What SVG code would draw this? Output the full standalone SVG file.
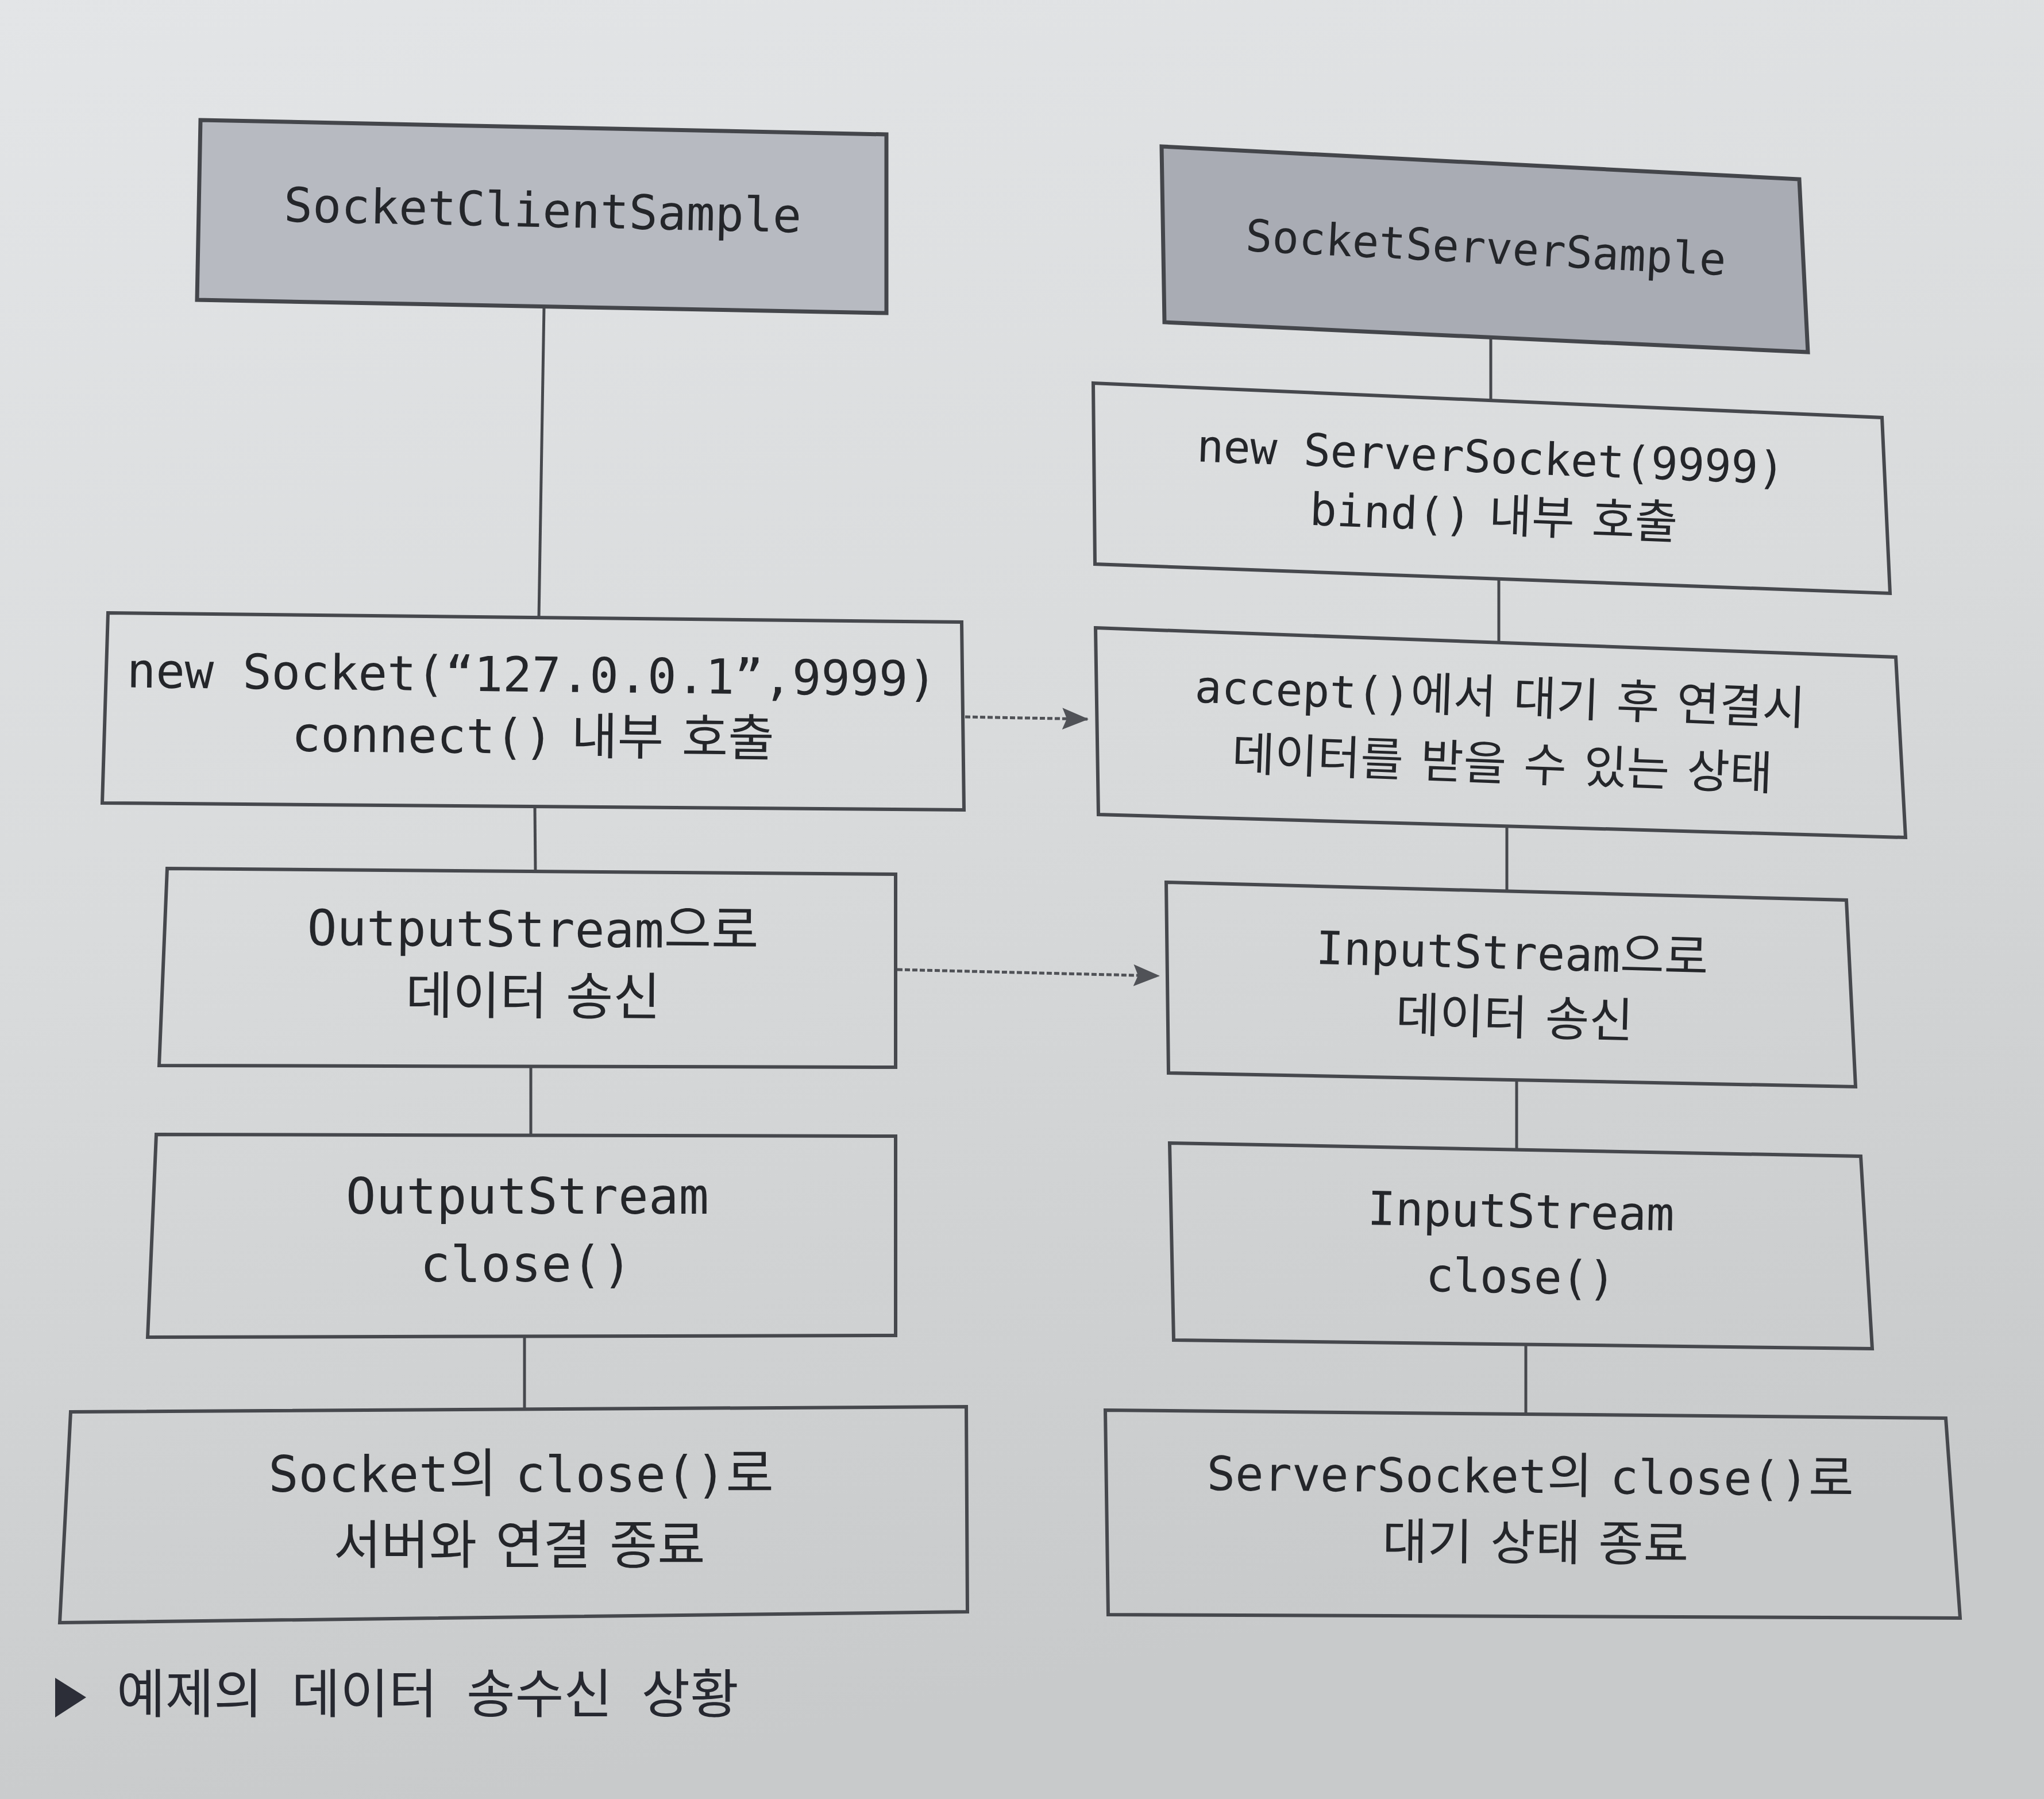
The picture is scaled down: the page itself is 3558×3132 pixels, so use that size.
<svg xmlns="http://www.w3.org/2000/svg" width="3558" height="3132" viewBox="0 0 3558 3132">
  <defs>
    <linearGradient id="paper" x1="0" y1="0" x2="0.25" y2="1">
      <stop offset="0" stop-color="#e3e5e7"/>
      <stop offset="0.5" stop-color="#d9dbdc"/>
      <stop offset="1" stop-color="#c8cacb"/>
    </linearGradient>
    <marker id="arrow" viewBox="0 0 46 38" refX="44" refY="19" markerWidth="46" markerHeight="38" markerUnits="userSpaceOnUse" orient="auto">
      <path d="M0,0 L46,19 L0,38 L8,19 Z" fill="#505257"/>
    </marker>
    <style>
      .box { fill: none; stroke: #46484d; stroke-width: 6; stroke-linejoin: miter; }
      .head { fill: #b7bac1; stroke: #44464b; stroke-width: 7; }
      .head2 { fill: #a9acb4; stroke: #44464b; stroke-width: 7; }
      .t { font-family: "DejaVu Sans Mono", "Noto Sans CJK KR", monospace; fill: #24262a; text-anchor: middle; }
      .k { font-family: "Noto Sans CJK KR", sans-serif; font-size: 1.04em; word-spacing: 12px; }
      .link { stroke: #46484d; stroke-width: 5; fill: none; }
      .msg { stroke: #505257; stroke-width: 5; fill: none; stroke-dasharray: 9 4; }
      .cap { font-family: "Noto Sans CJK KR", "Noto Sans", sans-serif; fill: #262830; font-size: 92px; word-spacing: 30px; }
    </style>
  </defs>

  <!-- page -->
  <rect x="0" y="0" width="3558" height="3132" fill="url(#paper)"/>

  <!-- connectors -->
  <g id="connectors">
    <line class="link" x1="947" y1="534" x2="938" y2="1075"/>
    <line class="link" x1="931" y1="1404" x2="932" y2="1517"/>
    <line class="link" x1="924" y1="1857" x2="924" y2="1976"/>
    <line class="link" x1="913" y1="2326" x2="913" y2="2452"/>
    <line class="link" x1="2595" y1="587" x2="2595" y2="697"/>
    <line class="link" x1="2609" y1="1008" x2="2609" y2="1119"/>
    <line class="link" x1="2623" y1="1438" x2="2623" y2="1552"/>
    <line class="link" x1="2640" y1="1880" x2="2640" y2="2002"/>
    <line class="link" x1="2656" y1="2341" x2="2656" y2="2462"/>
    <line class="msg" x1="1680" y1="1248" x2="1893" y2="1252" marker-end="url(#arrow)"/>
    <line class="msg" x1="1562" y1="1688" x2="2017" y2="1699" marker-end="url(#arrow)"/>
  </g>

  <!-- client side -->
  <g id="client">
    <polygon class="head" points="349,209 1543,234 1543,545 343,522"/>
    <text class="t" font-size="83" x="944" y="395" textLength="901" transform="rotate(1.2 944 395)">SocketClientSample</text>
  </g>
  <g id="client-socket">
    <polygon class="box" points="188,1067 1674,1083 1678,1410 178,1398"/>
    <g transform="rotate(0.6 927 1256)">
      <text class="t" font-size="84" x="925" y="1204" textLength="1410">new Socket(“127.0.0.1”,9999)</text>
      <text class="t" font-size="84" x="928" y="1312">connect()<tspan class="k"> 내부 호출</tspan></text>
    </g>
  </g>
  <g id="client-output">
    <polygon class="box" points="291,1512 1559,1522 1559,1858 277,1855"/>
    <g transform="rotate(0.4 927 1700)">
      <text class="t" font-size="86" x="927" y="1648">OutputStream<tspan class="k">으로</tspan></text>
      <text class="t" font-size="86" x="928" y="1766"><tspan class="k">데이터 송신</tspan></text>
    </g>
  </g>
  <g id="client-output-close">
    <polygon class="box" points="272,1975 1559,1978 1559,2325 257,2328"/>
    <text class="t" font-size="87" x="918" y="2113" textLength="632">OutputStream</text>
    <text class="t" font-size="87" x="916" y="2231" textLength="369">close()</text>
  </g>
  <g id="client-socket-close">
    <polygon class="box" points="123,2458 1682,2449 1684,2806 104,2825"/>
    <text class="t" font-size="87" x="907" y="2597">Socket<tspan class="k">의 </tspan>close()<tspan class="k">로</tspan></text>
    <text class="t" font-size="87" x="904" y="2722"><tspan class="k">서버와 연결 종료</tspan></text>
  </g>

  <!-- server side -->
  <g id="server">
    <polygon class="head2" points="2022,255 3132,312 3147,613 2027,561"/>
    <text class="t" font-size="77" x="2585" y="458" textLength="837" transform="rotate(2.9 2585 458)">SocketServerSample</text>
  </g>
  <g id="server-socket">
    <polygon class="box" points="1903,667 3276,727 3290,1033 1906,982"/>
    <g transform="rotate(2.2 2596 875)">
      <text class="t" font-size="78" x="2592" y="823" textLength="1024">new ServerSocket(9999)</text>
      <text class="t" font-size="78" x="2601" y="926">bind()<tspan class="k"> 내부 호출</tspan></text>
    </g>
  </g>
  <g id="server-accept">
    <polygon class="box" points="1907,1093 3300,1144 3317,1458 1912,1418"/>
    <g transform="rotate(2.1 2612 1300)">
      <text class="t" font-size="78" x="2608" y="1242">accept()<tspan class="k">에서 대기 후 연결시</tspan></text>
      <text class="t" font-size="78" x="2616" y="1358"><tspan class="k">데이터를 받을 수 있는 상태</tspan></text>
    </g>
  </g>
  <g id="server-input">
    <polygon class="box" points="2030,1536 3214,1567 3230,1892 2034,1868"/>
    <g transform="rotate(1.5 2632 1740)">
      <text class="t" font-size="80" x="2630" y="1687">InputStream<tspan class="k">으로</tspan></text>
      <text class="t" font-size="80" x="2637" y="1801"><tspan class="k">데이터 송신</tspan></text>
    </g>
  </g>
  <g id="server-input-close">
    <polygon class="box" points="2036,1990 3239,2013 3259,2348 2043,2333"/>
    <g transform="rotate(1.1 2646 2190)">
      <text class="t" font-size="81" x="2646" y="2137" textLength="534">InputStream</text>
      <text class="t" font-size="81" x="2648" y="2251" textLength="331">close()</text>
    </g>
  </g>
  <g id="server-socket-close">
    <polygon class="box" points="1924,2455 3387,2469 3412,2817 1929,2811"/>
    <g transform="rotate(0.5 2668 2660)">
      <text class="t" font-size="82" x="2663" y="2599">ServerSocket<tspan class="k">의 </tspan>close()<tspan class="k">로</tspan></text>
      <text class="t" font-size="82" x="2673" y="2716"><tspan class="k">대기 상태 종료</tspan></text>
    </g>
  </g>

  <!-- caption -->
  <g id="caption">
    <polygon points="96,2921 150,2955 96,2990" fill="#2c2e38"/>
    <text class="cap" x="203" y="2982">예제의 데이터 송수신 상황</text>
  </g>
</svg>
